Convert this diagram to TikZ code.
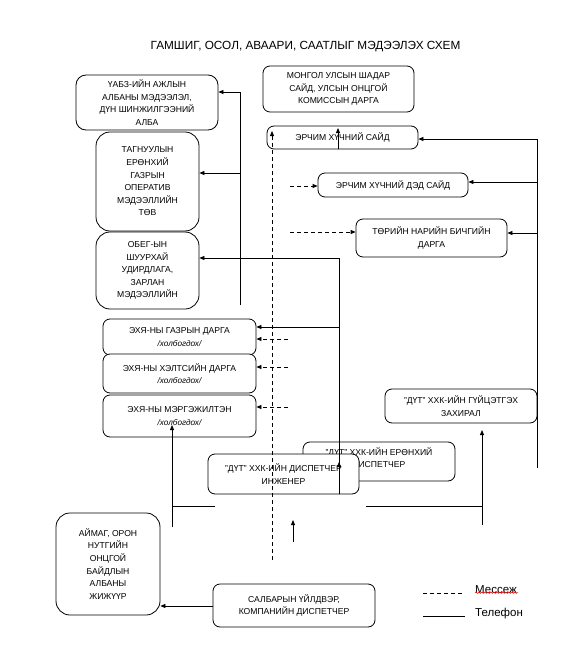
\documentclass[tikz,border=0pt]{standalone}
\usepackage{fontspec}
\setmainfont{Liberation Sans}
\usetikzlibrary{arrows.meta,decorations.pathmorphing}
\begin{document}
\begin{tikzpicture}[x=1pt,y=-1pt,
  box/.style={draw, line width=0.8pt, rounded corners=7pt, fill=white, align=center,
    inner sep=1pt, font=\fontsize{8.6}{12.6}\selectfont},
  boxtext/.style={align=center, inner sep=1pt, font=\fontsize{8.6}{12.6}\selectfont},
  bigr/.style={rounded corners=14pt},
  conn/.style={line width=0.8pt},
  arr/.style={conn, -{Triangle[length=5pt,width=4pt]}},
  msg/.style={line width=0.8pt, dash pattern=on 4pt off 3pt},
  msgarr/.style={msg, -{Triangle[length=5pt,width=4pt]}}
]
\useasboundingbox (0,0) rectangle (570,666);

\node[font=\fontsize{11.8}{14}\selectfont] (title) at (305.5,46.5) {ГАМШИГ, ОСОЛ, АВААРИ, СААТЛЫГ МЭДЭЭЛЭХ СХЕМ};

% left column
\node[box, rounded corners=10pt, minimum width=142pt, minimum height=55pt] (A) at (147,102.5)
  {ҮАБЗ-ИЙН АЖЛЫН\\АЛБАНЫ МЭДЭЭЛЭЛ,\\ДҮН ШИНЖИЛГЭЭНИЙ\\АЛБА};
\node[box, bigr, minimum width=103pt, minimum height=99pt] (B) at (147.5,181.5)
  {ТАГНУУЛЫН\\ЕРӨНХИЙ\\ГАЗРЫН\\ОПЕРАТИВ\\МЭДЭЭЛЛИЙН\\ТӨВ};
\node[box, bigr, minimum width=103pt, minimum height=77pt] (C) at (147.5,270.5)
  {ОБЕГ-ЫН\\ШУУРХАЙ\\УДИРДЛАГА,\\ЗАРЛАН\\МЭДЭЭЛЛИЙН};

% top right
\node[box, minimum width=151pt, minimum height=46pt] (D) at (338.5,89)
  {МОНГОЛ УЛСЫН ШАДАР\\САЙД, УЛСЫН ОНЦГОЙ\\КОМИССЫН ДАРГА};
\node[box, minimum width=151pt, minimum height=23pt] (E) at (342.5,137.5) {ЭРЧИМ ХҮЧНИЙ САЙД};
\node[box, minimum width=150pt, minimum height=24pt] (F) at (393,185) {ЭРЧИМ ХҮЧНИЙ ДЭД САЙД};
\node[box, minimum width=151pt, minimum height=38pt] (G) at (431.5,238) {ТӨРИЙН НАРИЙН БИЧГИЙН\\ДАРГА};

% EXYa boxes
\node[box, minimum width=153pt, minimum height=36pt] (H1) at (179.5,337)
  {ЭХЯ-НЫ ГАЗРЫН ДАРГА\\{\fontsize{8.2}{11}\itshape /холбогдох/}};
\node[box, minimum width=153pt, minimum height=39pt] (H2) at (179.5,373.5)
  {ЭХЯ-НЫ ХЭЛТСИЙН ДАРГА\\{\fontsize{8.2}{11}\itshape /холбогдох/}};
\node[box, minimum width=153pt, minimum height=42pt] (H3) at (179.5,416)
  {ЭХЯ-НЫ МЭРГЭЖИЛТЭН\\{\fontsize{8.2}{11}\itshape /холбогдох/}};

% lower right
\node[box, minimum width=152pt, minimum height=34pt] (I) at (461,406)
  {"ДҮТ" ХХК-ИЙН ГҮЙЦЭТГЭХ\\ЗАХИРАЛ};
\node[box, minimum width=152pt, minimum height=39pt] (J) at (379,461.5) {};
\node[boxtext] (Jt) at ([yshift=3pt]J.center) {"ДҮТ" ХХК-ИЙН ЕРӨНХИЙ\\ДИСПЕТЧЕР};
\node[box, minimum width=151pt, minimum height=40pt] (K) at (283.5,474)
  {"ДҮТ" ХХК-ИЙН ДИСПЕТЧЕР\\ИНЖЕНЕР};

% bottom
\node[box, bigr, minimum width=104pt, minimum height=102pt] (L) at (108,564)
  {АЙМАГ, ОРОН\\НУТГИЙН\\ОНЦГОЙ\\БАЙДЛЫН\\АЛБАНЫ\\ЖИЖҮҮР};
\node[box, minimum width=162pt, minimum height=43pt] (M) at (294,605.5)
  {САЛБАРЫН ҮЙЛДВЭР,\\КОМПАНИЙН ДИСПЕТЧЕР};

% ---- connectors ----
% left vertical telephone line
\coordinate (v1top) at (240,92);
\coordinate (v1mid) at (240,173);
\coordinate (v1bot) at (240,305);
\draw[conn] (v1bot) -- (v1top);
\draw[arr] (v1top) -- (v1top -| A.east);
\draw[arr] (v1mid) -- (v1mid -| B.east);

% line from dispatcher engineer
\coordinate (v2top) at (339,258);
\coordinate (v2h) at (339,327);
\coordinate (v2tip) at (339,462);
\draw[arr] (v2top |- K.south) -- (v2top) -- (v2top -| C.east);
\draw[arr] (v2h) -- (v2h -| H1.east);
\draw[arr] (v2top |- K.south) -- (v2tip);

% small arrow in minister box
\coordinate (etip) at (338,128);
\draw[arr] (etip |- E.south) -- (etip);

% dashed message line
\coordinate (dtop) at (272,131);
\coordinate (dbot) at (272,560);
\draw[msgarr] (dbot) -- (dtop);
\coordinate (mF) at (290,186);
\coordinate (mG) at (290,232);
\coordinate (m1) at (288,339);
\coordinate (m2) at (288,367);
\coordinate (m3) at (288,407);
\draw[msgarr] (mF) -- (mF -| F.west);
\draw[msgarr] (mG) -- (mG -| G.west);
\draw[msgarr] (m1) -- (m1 -| H1.east);
\draw[msgarr] (m2) -- (m2 -| H2.east);
\draw[msgarr] (m3) -- (m3 -| H3.east);

% right vertical telephone line
\coordinate (rE) at (537,139);
\coordinate (rF) at (537,182);
\coordinate (rG) at (537,233);
\coordinate (rbot) at (537,468);
\draw[conn] (rbot) -- (rE);
\draw[arr] (rE) -- (rE -| E.east);
\draw[arr] (rF) -- (rF -| F.east);
\draw[arr] (rG) -- (rG -| G.east);

% bottom left
\coordinate (blh) at (215,506);
\coordinate (blj) at (172,506);
\coordinate (blb) at (172,527);
\coordinate (blt) at (172,425);
\draw[conn] (blh) -- (blj);
\draw[arr] (blb) -- (blt);

% bottom right
\coordinate (brh) at (366,506);
\coordinate (brj) at (482,506);
\coordinate (brb) at (482,525);
\coordinate (brt) at (482,430);
\draw[conn] (brh) -- (brj);
\draw[arr] (brb) -- (brt);

% small arrow up
\coordinate (ub) at (293,542);
\coordinate (ut) at (293,520);
\draw[arr] (ub) -- (ut);

% branch dispatcher to aimag
\coordinate (mL) at (213,606);
\draw[arr] (mL) -- (mL -| L.east);

% legend
\coordinate (lg1a) at (423,593);
\coordinate (lg1b) at (462,593);
\coordinate (lg2a) at (423,616);
\coordinate (lg2b) at (465,616);
\draw[msg] (lg1a) -- (lg1b);
\draw[conn] (lg2a) -- (lg2b);
\node[anchor=west, inner sep=0pt, font=\fontsize{11.5}{13}\selectfont] (leg1) at (475,590) {Мессеж};
\node[anchor=west, inner sep=0pt, font=\fontsize{11.5}{13}\selectfont] (leg2) at (475,614) {Телефон};
\draw[red, line width=0.5pt, decorate, decoration={snake, amplitude=0.7pt, segment length=3pt}]
  (leg1.south west) ++(0,-1.5) -- ++(43,0);
\end{tikzpicture}
\end{document}
